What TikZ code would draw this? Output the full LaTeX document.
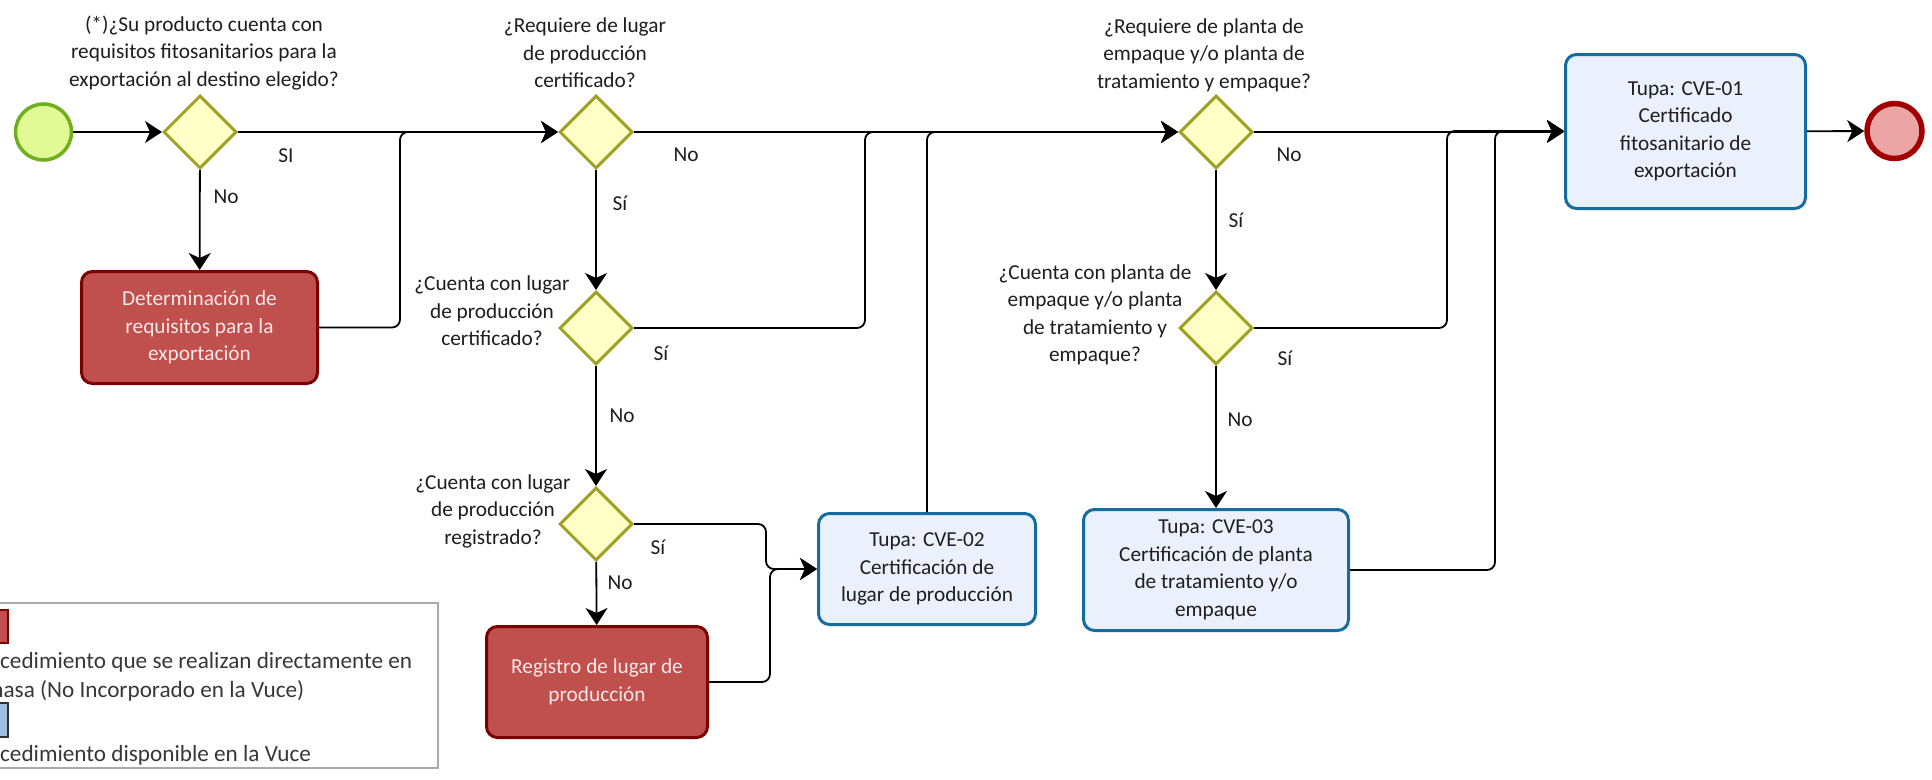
\documentclass[tikz,border=0pt]{standalone}
\usepackage{fontspec}
\setmainfont{Carlito}
\usetikzlibrary{shapes.geometric,arrows.meta}
\definecolor{txt}{RGB}{30,30,30}
\definecolor{redfill}{RGB}{192,80,77}
\definecolor{redline}{RGB}{125,0,0}
\definecolor{redtext}{RGB}{250,232,232}
\definecolor{bluefill}{RGB}{234,240,252}
\definecolor{blueline}{RGB}{22,108,158}
\definecolor{gatefill}{RGB}{255,255,200}
\definecolor{gateline}{RGB}{160,160,35}
\definecolor{startfill}{RGB}{225,250,150}
\definecolor{startline}{RGB}{110,175,30}
\definecolor{endfill}{RGB}{235,165,165}
\definecolor{endline}{RGB}{160,0,0}
\definecolor{legfill}{RGB}{160,190,228}
\definecolor{leggray}{RGB}{170,170,170}
\definecolor{legtxt}{RGB}{55,55,55}
\tikzset{
  lbl/.style={font=\fontsize{21.3}{27.5}\selectfont, text=txt, align=center, inner sep=0pt},
  legtext/.style={font=\fontsize{23.2}{28}\selectfont, text=legtxt, inner sep=0pt, anchor=base west},
  gate/.style={diamond, aspect=1, minimum size=73pt, inner sep=0pt, draw=gateline, fill=gatefill, line width=3pt},
  redbox/.style={rectangle, rounded corners=11pt, draw=redline, fill=redfill, line width=3pt, text=redtext,
     font=\fontsize{21.3}{27.5}\selectfont, align=center},
  bluebox/.style={rectangle, rounded corners=11pt, draw=blueline, fill=bluefill, line width=3pt, text=txt,
     font=\fontsize{21.3}{27.5}\selectfont, align=center},
  conn/.style={draw=black, line width=1.8pt, rounded corners=8pt},
  flow/.style={conn, -{Stealth[length=17pt,width=22pt,inset=5pt]}},
}
\begin{document}
\begin{tikzpicture}[x=1pt,y=-1pt]
\clip (0,0) rectangle (1932,779);
\fill[white] (0,0) rectangle (1932,779);

% events
\node[circle, minimum size=56pt, inner sep=0pt, draw=startline, fill=startfill, line width=3.5pt] (start) at (43.5,132) {};
\node[circle, minimum size=55pt, inner sep=0pt, draw=endline, fill=endfill, line width=5.5pt] (end) at (1894.5,131) {};

% gateways
\node[gate] (d1) at (200,132) {};
\node[gate] (d2) at (596,132) {};
\node[gate] (d3) at (596,328) {};
\node[gate] (d4) at (596,524) {};
\node[gate] (d5) at (1216,132) {};
\node[gate] (d6) at (1216,328) {};

% tasks
\node[redbox, minimum width=236pt, minimum height=112pt] (det) at (199.5,327.5) {Determinación de\\requisitos para la\\exportación};
\node[redbox, minimum width=221pt, minimum height=111pt] (reg) at (597,682) {Registro de lugar de\\producción};
\node[bluebox, minimum width=217pt, minimum height=111pt] (cve2) at (927,569) {Tupa: CVE-02\\Certificación de\\lugar de producción};
\node[bluebox, minimum width=265pt, minimum height=121pt] (cve3) at (1216,570) {Tupa: CVE-03\\Certificación de planta\\de tratamiento y/o\\empaque};
\node[bluebox, minimum width=240pt, minimum height=154pt] (cve1) at (1685.5,131.5) {Tupa: CVE-01\\Certificado\\fitosanitario de\\exportación};

% question labels
\node[lbl] (q1) at (204,53) {(*)¿Su producto cuenta con\\requisitos fitosanitarios para la\\exportación al destino elegido?};
\node[lbl] (q2) at (585,53) {¿Requiere de lugar\\de producción\\certificado?};
\node[lbl] (q3) at (492,311) {¿Cuenta con lugar\\de producción\\certificado?};
\node[lbl] (q4) at (493,511) {¿Cuenta con lugar\\de producción\\registrado?};
\node[lbl] (q5) at (1204,55) {¿Requiere de planta de\\empaque y/o planta de\\tratamiento y empaque?};
\node[lbl] (q6) at (1095,315) {¿Cuenta con planta de\\empaque y/o planta\\de tratamiento y\\empaque?};

% junction coordinates
\coordinate (j1) at (400,132);
\coordinate (j2) at (865,132);
\coordinate (j3) at (766,569);
\coordinate (j4) at (770,569);
\coordinate (j5) at (1447,131);
\coordinate (j6) at (1495,131);

% connectors
\draw[flow] (start) -- (d1);
\draw[flow] (d1) -- (d2);
\draw[flow] (d1) -- (det);
\draw[flow] (det.east) -- (det.east -| j1) -- (j1) -- (d2.west);
\draw[flow] (d2) -- (d5);
\draw[flow] (d2) -- (d3);
\draw[flow] (d3.east) -- (d3.east -| j2) -- (j2) -- (d5.west);
\draw[flow] (d3) -- (d4);
\draw[flow] (d4.east) -- (d4.east -| j3) -- (j3) -- (cve2.west);
\draw[flow] (reg.east) -- (reg.east -| j4) -- (j4) -- (cve2.west);
\draw[flow] (d4) -- (reg);
\draw[flow] (cve2.north) -- (cve2.north |- d5) -- (d5.west);
\draw[flow] (d5) -- (d5 -| cve1.west);
\draw[flow] (d5) -- (d6);
\draw[flow] (d6.east) -- (d6.east -| j5) -- (j5) -- (j5 -| cve1.west);
\draw[flow] (d6) -- (cve3);
\draw[flow] (cve3.east) -- (cve3.east -| j6) -- (j6) -- (j6 -| cve1.west);
\draw[flow] (cve1) -- (end);

% connector labels
\node[lbl] (l1) at (286,156) {SI};
\node[lbl] (l2) at (226,197) {No};
\node[lbl] (l3) at (686,155) {No};
\node[lbl] (l4) at (620,203) {Sí};
\node[lbl] (l5) at (661,353) {Sí};
\node[lbl] (l6) at (622,416) {No};
\node[lbl] (l7) at (658,547) {Sí};
\node[lbl] (l8) at (620,583) {No};
\node[lbl] (l9) at (1289,155) {No};
\node[lbl] (l10) at (1236,220) {Sí};
\node[lbl] (l11) at (1285,358) {Sí};
\node[lbl] (l12) at (1240,420) {No};

% legend
\draw[draw=leggray, line width=1.5pt] (-5,603) rectangle (438,768);
\draw[draw=redline, fill=redfill, line width=1.5pt] (-5,610) rectangle (8,643);
\draw[draw=black!80, fill=legfill, line width=1.5pt] (-5,703) rectangle (8,737);
\node[legtext] (lg1) at (-32,668) {Procedimiento que se realizan directamente en};
\node[legtext] (lg2) at (-31,697) {Senasa (No Incorporado en la Vuce)};
\node[legtext] (lg3) at (-32,761) {Procedimiento disponible en la Vuce};
\end{tikzpicture}
\end{document}
